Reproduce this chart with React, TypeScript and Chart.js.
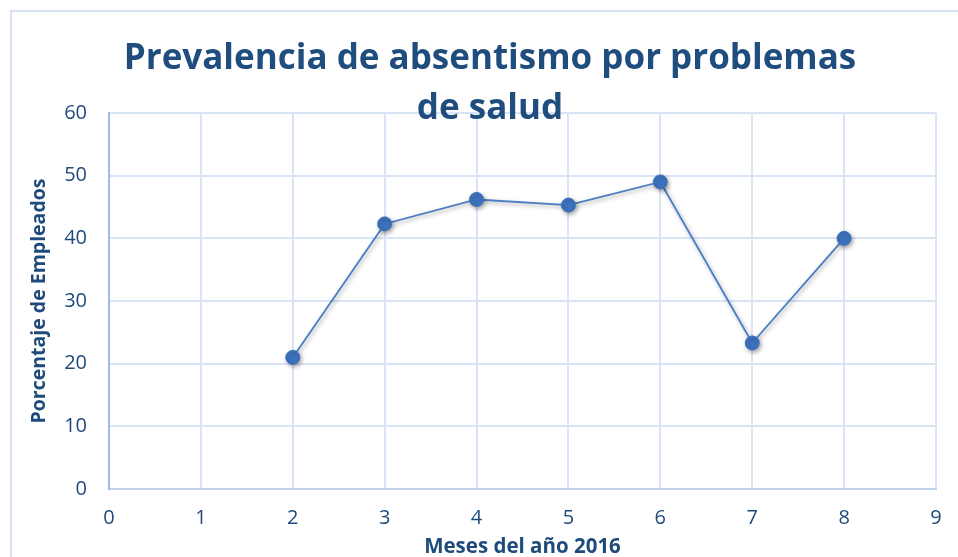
import React, { useEffect, useRef } from "react";
import { Chart, registerables } from "chart.js";

Chart.register(...registerables);

const titleLines = ["Prevalencia de absentismo por problemas", "de salud"];
const xAxisTitle = "Meses del año 2016";
const yAxisTitle = "Porcentaje de Empleados";
const months = [2, 3, 4, 5, 6, 7, 8];
const prevalence = [21, 42.3, 46.2, 45.3, 49, 23.3, 40];
const xTicks = [0, 1, 2, 3, 4, 5, 6, 7, 8, 9];
const yTicks = [0, 10, 20, 30, 40, 50, 60];

const W = 980;
const H = 570;
const FONT = "'Open Sans', Lato, sans-serif";
const TEXT = "#1f4a7c";

const framePlugin = {
  id: "frameAndTitle",
  beforeDraw(chart: any) {
    const ctx = chart.ctx;
    ctx.save();
    ctx.fillStyle = "#ffffff";
    ctx.fillRect(0, 0, chart.width, chart.height);
    ctx.strokeStyle = "#d6e2f3";
    ctx.lineWidth = 2;
    ctx.strokeRect(11, 11, chart.width + 40, chart.height + 40);
    ctx.restore();
  },
  afterDraw(chart: any) {
    const ctx = chart.ctx;
    ctx.save();
    ctx.fillStyle = "#1f4d7e";
    ctx.font = `bold 35px ${FONT}`;
    ctx.textAlign = "center";
    ctx.textBaseline = "middle";
    const cx = 490;
    titleLines.forEach((t, i) => ctx.fillText(t, cx, 59 + i * 50));
    ctx.restore();
  },
};

const shadowPlugin = {
  id: "shadow",
  beforeDatasetsDraw(chart: any) {
    const ctx = chart.ctx;
    ctx.save();
    ctx.shadowColor = "rgba(0,0,0,0.35)";
    ctx.shadowBlur = 4;
    ctx.shadowOffsetX = 1.5;
    ctx.shadowOffsetY = 2;
  },
  afterDatasetsDraw(chart: any) {
    chart.ctx.restore();
  },
};

export default function App() {
  const ref = useRef<HTMLCanvasElement>(null);
  useEffect(() => {
    document.body.style.margin = "0";
    document.body.style.overflow = "hidden";
    const chart = new Chart(ref.current as HTMLCanvasElement, {
      type: "line",
      data: {
        datasets: [
          {
            data: months.map((m, i) => ({ x: m, y: prevalence[i] })),
            borderColor: "#4a7ec4",
            borderWidth: 1.8,
            backgroundColor: "#3c72bd",
            pointBackgroundColor: "#3c72bd",
            pointBorderColor: "#3c72bd",
            pointRadius: 7,
            pointBorderWidth: 1,
            tension: 0,
          },
        ],
      },
      options: {
        animation: false,
        responsive: false,
        layout: { padding: { top: 113, right: W - 936, left: 0, bottom: 0 } },
        plugins: { legend: { display: false }, tooltip: { enabled: false } },
        scales: {
          x: {
            type: "linear",
            min: 0,
            max: 9,
            afterBuildTicks: (s: any) => {
              s.ticks = xTicks.map((v) => ({ value: v }));
            },
            afterFit: (s: any) => {
              s.height = H - 489;
            },
            ticks: { color: TEXT, font: { family: FONT, size: 20 }, padding: 17 },
            grid: { color: "#d9e4f5", lineWidth: 2, drawTicks: false },
            border: { color: "#c3d4ee", width: 2 },
            title: {
              display: true,
              text: xAxisTitle,
              color: TEXT,
              font: { family: FONT, size: 20.5, weight: "bold" },
              padding: { top: 0, bottom: 11 },
            },
          },
          y: {
            min: 0,
            max: 60,
            afterBuildTicks: (s: any) => {
              s.ticks = yTicks.map((v) => ({ value: v }));
            },
            afterFit: (s: any) => {
              s.width = 109;
            },
            ticks: { color: TEXT, font: { family: FONT, size: 20 }, padding: 22 },
            grid: { color: "#d9e4f5", lineWidth: 2, drawTicks: false },
            border: { color: "#9dbce8", width: 2 },
            title: {
              display: true,
              text: yAxisTitle,
              color: TEXT,
              font: { family: FONT, size: 19.5, weight: "bold" },
              padding: { top: 28, bottom: 0 },
            },
          },
        },
      },
      plugins: [framePlugin, shadowPlugin],
    } as any);
    return () => chart.destroy();
  }, []);
  return (
    <div style={{ position: "fixed", left: 0, top: 0, width: 958, height: 557, overflow: "hidden" }}>
      <canvas ref={ref} width={W} height={H} style={{ display: "block" }} />
    </div>
  );
}
